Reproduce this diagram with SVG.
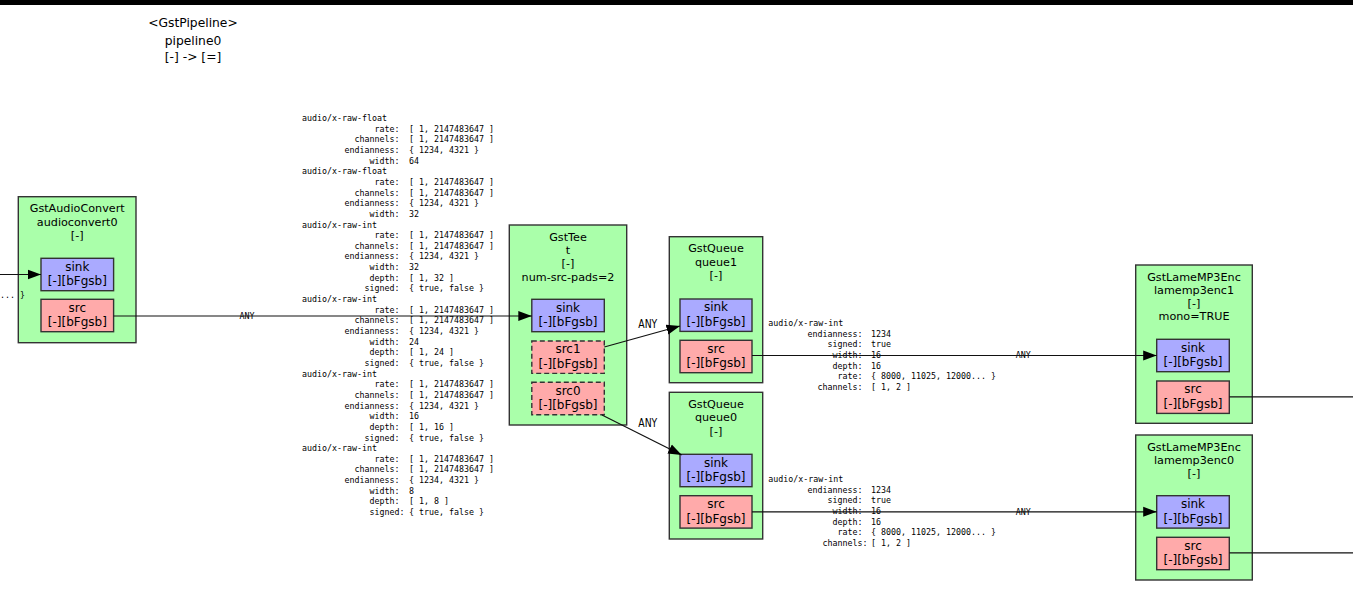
<svg xmlns="http://www.w3.org/2000/svg" width="1353" height="590" viewBox="0 0 1353 590">
<style>
.node{fill:#aaffaa;stroke:#333;stroke-width:1.4}
.sink{fill:#aaaaff;stroke:#333;stroke-width:1.4}
.src{fill:#ffaaaa;stroke:#333;stroke-width:1.4}
.req{stroke-dasharray:5,3}
.nt{font-family:"DejaVu Sans","Liberation Sans",sans-serif;font-size:11.2px;fill:#000;text-anchor:middle}
.pt{font-family:"DejaVu Sans","Liberation Sans",sans-serif;font-size:12px;fill:#000;text-anchor:middle}
.title{font-family:"DejaVu Sans","Liberation Sans",sans-serif;font-size:12.3px;fill:#000;text-anchor:middle}
.cap{font-family:"DejaVu Sans Mono","Liberation Mono",monospace;font-size:8.3px;fill:#000}
.k{text-anchor:end}
.any{font-family:"DejaVu Sans","Liberation Sans",sans-serif;font-size:11.5px;fill:#000;text-anchor:middle}
.e{fill:none;stroke:#111;stroke-width:1.2}
</style>
<defs>
<marker id="ah" markerUnits="userSpaceOnUse" markerWidth="14" markerHeight="11" refX="13.5" refY="5" orient="auto" viewBox="0 0 14 10">
<path d="M0,0 L13.5,5 L0,10 z" fill="#000"/>
</marker>
</defs>
<rect x="0" y="0" width="1353" height="5" fill="#000"/>
<g id="pipeline-title">
<text class="title" x="193" y="27">&lt;GstPipeline&gt;</text>
<text class="title" x="193" y="44.5">pipeline0</text>
<text class="title" x="193" y="61">[-] -&gt; [=]</text>
</g>

<g id="audioconvert0">
<rect class="node" x="18.3" y="196.7" width="117.7" height="146"/>
<text class="nt" x="77.2" y="212.4">GstAudioConvert</text>
<text class="nt" x="77.2" y="225.7">audioconvert0</text>
<text class="nt" x="77.2" y="239">[-]</text>
<rect class="sink" x="41" y="258.3" width="72.6" height="32.4"/>
<text class="pt" x="77.3" y="270.5">sink</text>
<text class="pt" x="77.3" y="285.3">[-][bFgsb]</text>
<rect class="src" x="41" y="299.3" width="72.6" height="32.4"/>
<text class="pt" x="77.3" y="311.5">src</text>
<text class="pt" x="77.3" y="326.3">[-][bFgsb]</text>
</g>

<g id="t">
<rect class="node" x="509.3" y="225" width="117.4" height="200"/>
<text class="nt" x="568" y="240.7">GstTee</text>
<text class="nt" x="568" y="254">t</text>
<text class="nt" x="568" y="267.3">[-]</text>
<text class="nt" x="568" y="280.6">num-src-pads=2</text>
<rect class="sink" x="531.8" y="299.3" width="72.5" height="32.4"/>
<text class="pt" x="568" y="311.5">sink</text>
<text class="pt" x="568" y="326.3">[-][bFgsb]</text>
<rect class="src req" x="531.8" y="341" width="72.5" height="32.4"/>
<text class="pt" x="568" y="353.2">src1</text>
<text class="pt" x="568" y="368">[-][bFgsb]</text>
<rect class="src req" x="531.8" y="382.3" width="72.5" height="32.4"/>
<text class="pt" x="568" y="394.5">src0</text>
<text class="pt" x="568" y="409.3">[-][bFgsb]</text>
</g>

<g id="queue1">
<rect class="node" x="669.3" y="236.7" width="93.4" height="146"/>
<text class="nt" x="716" y="252.4">GstQueue</text>
<text class="nt" x="716" y="265.7">queue1</text>
<text class="nt" x="716" y="279">[-]</text>
<rect class="sink" x="680" y="299" width="72" height="32.4"/>
<text class="pt" x="716" y="311.2">sink</text>
<text class="pt" x="716" y="326">[-][bFgsb]</text>
<rect class="src" x="680" y="340.3" width="72" height="32.4"/>
<text class="pt" x="716" y="352.5">src</text>
<text class="pt" x="716" y="367.3">[-][bFgsb]</text>
</g>

<g id="queue0">
<rect class="node" x="669.3" y="392.3" width="93.4" height="146.7"/>
<text class="nt" x="716" y="408">GstQueue</text>
<text class="nt" x="716" y="421.3">queue0</text>
<text class="nt" x="716" y="434.6">[-]</text>
<rect class="sink" x="680" y="454.3" width="72" height="32.4"/>
<text class="pt" x="716" y="466.5">sink</text>
<text class="pt" x="716" y="481.3">[-][bFgsb]</text>
<rect class="src" x="680" y="495.7" width="72" height="32.4"/>
<text class="pt" x="716" y="507.9">src</text>
<text class="pt" x="716" y="522.7">[-][bFgsb]</text>
</g>

<g id="lamemp3enc1">
<rect class="node" x="1135.7" y="265" width="116.6" height="158.3"/>
<text class="nt" x="1194" y="280.7">GstLameMP3Enc</text>
<text class="nt" x="1194" y="294">lamemp3enc1</text>
<text class="nt" x="1194" y="307.3">[-]</text>
<text class="nt" x="1194" y="320.3">mono=TRUE</text>
<rect class="sink" x="1156.7" y="339.3" width="72.6" height="32.4"/>
<text class="pt" x="1193" y="351.5">sink</text>
<text class="pt" x="1193" y="366.3">[-][bFgsb]</text>
<rect class="src" x="1156.7" y="381" width="72.6" height="32.4"/>
<text class="pt" x="1193" y="393.2">src</text>
<text class="pt" x="1193" y="408">[-][bFgsb]</text>
</g>

<g id="lamemp3enc0">
<rect class="node" x="1135.7" y="435" width="116.6" height="145"/>
<text class="nt" x="1194" y="450.7">GstLameMP3Enc</text>
<text class="nt" x="1194" y="464">lamemp3enc0</text>
<text class="nt" x="1194" y="477.3">[-]</text>
<rect class="sink" x="1156.7" y="495.7" width="72.6" height="32.4"/>
<text class="pt" x="1193" y="507.9">sink</text>
<text class="pt" x="1193" y="522.7">[-][bFgsb]</text>
<rect class="src" x="1156.7" y="537.3" width="72.6" height="32.4"/>
<text class="pt" x="1193" y="549.5">src</text>
<text class="pt" x="1193" y="564.3">[-][bFgsb]</text>
</g>

<g id="caps-labels">
<text class="cap" x="25" y="298" text-anchor="end">... }</text>
<text class="cap">
<tspan x="302" y="121">audio/x-raw-float</tspan>
<tspan x="302" y="174.25">audio/x-raw-float</tspan>
<tspan x="302" y="227.5">audio/x-raw-int</tspan>
<tspan x="302" y="302.05">audio/x-raw-int</tspan>
<tspan x="302" y="376.6">audio/x-raw-int</tspan>
<tspan x="302" y="451.15">audio/x-raw-int</tspan>
</text>
<text class="cap k">
<tspan x="404.5" y="131.65">rate:</tspan>
<tspan x="404.5" y="142.3">channels:</tspan>
<tspan x="404.5" y="152.95">endianness:</tspan>
<tspan x="404.5" y="163.6">width:</tspan>
<tspan x="404.5" y="184.9">rate:</tspan>
<tspan x="404.5" y="195.55">channels:</tspan>
<tspan x="404.5" y="206.2">endianness:</tspan>
<tspan x="404.5" y="216.85">width:</tspan>
<tspan x="404.5" y="238.15">rate:</tspan>
<tspan x="404.5" y="248.8">channels:</tspan>
<tspan x="404.5" y="259.45">endianness:</tspan>
<tspan x="404.5" y="270.1">width:</tspan>
<tspan x="404.5" y="280.75">depth:</tspan>
<tspan x="404.5" y="291.4">signed:</tspan>
<tspan x="404.5" y="312.7">rate:</tspan>
<tspan x="404.5" y="323.35">channels:</tspan>
<tspan x="404.5" y="334">endianness:</tspan>
<tspan x="404.5" y="344.65">width:</tspan>
<tspan x="404.5" y="355.3">depth:</tspan>
<tspan x="404.5" y="365.95">signed:</tspan>
<tspan x="404.5" y="387.25">rate:</tspan>
<tspan x="404.5" y="397.9">channels:</tspan>
<tspan x="404.5" y="408.55">endianness:</tspan>
<tspan x="404.5" y="419.2">width:</tspan>
<tspan x="404.5" y="429.85">depth:</tspan>
<tspan x="404.5" y="440.5">signed:</tspan>
<tspan x="404.5" y="461.8">rate:</tspan>
<tspan x="404.5" y="472.45">channels:</tspan>
<tspan x="404.5" y="483.1">endianness:</tspan>
<tspan x="404.5" y="493.75">width:</tspan>
<tspan x="404.5" y="504.4">depth:</tspan>
<tspan x="404.5" y="515.05">signed:</tspan>
</text>
<text class="cap">
<tspan x="409" y="131.65">[ 1, 2147483647 ]</tspan>
<tspan x="409" y="142.3">[ 1, 2147483647 ]</tspan>
<tspan x="409" y="152.95">{ 1234, 4321 }</tspan>
<tspan x="409" y="163.6">64</tspan>
<tspan x="409" y="184.9">[ 1, 2147483647 ]</tspan>
<tspan x="409" y="195.55">[ 1, 2147483647 ]</tspan>
<tspan x="409" y="206.2">{ 1234, 4321 }</tspan>
<tspan x="409" y="216.85">32</tspan>
<tspan x="409" y="238.15">[ 1, 2147483647 ]</tspan>
<tspan x="409" y="248.8">[ 1, 2147483647 ]</tspan>
<tspan x="409" y="259.45">{ 1234, 4321 }</tspan>
<tspan x="409" y="270.1">32</tspan>
<tspan x="409" y="280.75">[ 1, 32 ]</tspan>
<tspan x="409" y="291.4">{ true, false }</tspan>
<tspan x="409" y="312.7">[ 1, 2147483647 ]</tspan>
<tspan x="409" y="323.35">[ 1, 2147483647 ]</tspan>
<tspan x="409" y="334">{ 1234, 4321 }</tspan>
<tspan x="409" y="344.65">24</tspan>
<tspan x="409" y="355.3">[ 1, 24 ]</tspan>
<tspan x="409" y="365.95">{ true, false }</tspan>
<tspan x="409" y="387.25">[ 1, 2147483647 ]</tspan>
<tspan x="409" y="397.9">[ 1, 2147483647 ]</tspan>
<tspan x="409" y="408.55">{ 1234, 4321 }</tspan>
<tspan x="409" y="419.2">16</tspan>
<tspan x="409" y="429.85">[ 1, 16 ]</tspan>
<tspan x="409" y="440.5">{ true, false }</tspan>
<tspan x="409" y="461.8">[ 1, 2147483647 ]</tspan>
<tspan x="409" y="472.45">[ 1, 2147483647 ]</tspan>
<tspan x="409" y="483.1">{ 1234, 4321 }</tspan>
<tspan x="409" y="493.75">8</tspan>
<tspan x="409" y="504.4">[ 1, 8 ]</tspan>
<tspan x="409" y="515.05">{ true, false }</tspan>
</text>

<text class="cap"><tspan x="768.3" y="326">audio/x-raw-int</tspan><tspan x="768.3" y="482">audio/x-raw-int</tspan></text>
<text class="cap k">
<tspan x="867.5" y="336.65">endianness:</tspan>
<tspan x="867.5" y="347.3">signed:</tspan>
<tspan x="867.5" y="357.95">width:</tspan>
<tspan x="867.5" y="368.6">depth:</tspan>
<tspan x="867.5" y="379.25">rate:</tspan>
<tspan x="867.5" y="389.9">channels:</tspan>
<tspan x="867.5" y="492.65">endianness:</tspan>
<tspan x="867.5" y="503.3">signed:</tspan>
<tspan x="867.5" y="513.95">width:</tspan>
<tspan x="867.5" y="524.6">depth:</tspan>
<tspan x="867.5" y="535.25">rate:</tspan>
<tspan x="867.5" y="545.9">channels:</tspan>
</text>
<text class="cap">
<tspan x="871" y="336.65">1234</tspan>
<tspan x="871" y="347.3">true</tspan>
<tspan x="871" y="357.95">16</tspan>
<tspan x="871" y="368.6">16</tspan>
<tspan x="871" y="379.25">{ 8000, 11025, 12000... }</tspan>
<tspan x="871" y="389.9">[ 1, 2 ]</tspan>
<tspan x="871" y="492.65">1234</tspan>
<tspan x="871" y="503.3">true</tspan>
<tspan x="871" y="513.95">16</tspan>
<tspan x="871" y="524.6">16</tspan>
<tspan x="871" y="535.25">{ 8000, 11025, 12000... }</tspan>
<tspan x="871" y="545.9">[ 1, 2 ]</tspan>
</text>
<text class="cap" x="247" y="319" text-anchor="middle">ANY</text>
<text class="cap" x="1023.3" y="358.3" text-anchor="middle">ANY</text>
<text class="cap" x="1023.3" y="514.5" text-anchor="middle">ANY</text>
<text class="any" x="647.8" y="328.3" textLength="19" lengthAdjust="spacingAndGlyphs">ANY</text>
<text class="any" x="647.8" y="426.7" textLength="19" lengthAdjust="spacingAndGlyphs">ANY</text>
</g>

<g id="connectors">
<path class="e" d="M0,274.5 L41,274.5" marker-end="url(#ah)"/>
<path class="e" d="M113.6,316 L531.8,316" marker-end="url(#ah)"/>
<path class="e" d="M604.3,347 L680,326" marker-end="url(#ah)"/>
<path class="e" d="M602,415 L681.7,455" marker-end="url(#ah)"/>
<path class="e" d="M752,355.5 L1156.7,355.5" marker-end="url(#ah)"/>
<path class="e" d="M752,511.8 L1156.7,511.8" marker-end="url(#ah)"/>
<path class="e" d="M1229.3,396.8 L1353,396.8"/>
<path class="e" d="M1229.3,552.8 L1353,552.8"/>
</g>
</svg>
